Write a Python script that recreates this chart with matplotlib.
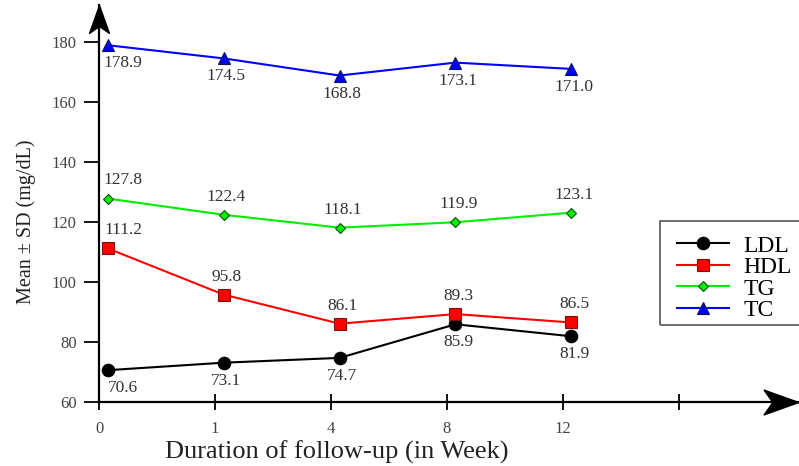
import matplotlib
matplotlib.use("Agg")
import matplotlib.pyplot as plt
import matplotlib.transforms as mtransforms
from matplotlib.path import Path
from matplotlib.patches import Rectangle
import numpy as np

# ---- data ----
weeks = ["0", "1", "4", "8", "12", ""]
series_names = ["LDL", "HDL", "TG", "TC"]
ldl = [70.6, 73.1, 74.7, 85.9, 81.9]
hdl = [111.2, 95.8, 86.1, 89.3, 86.5]
tg = [127.8, 122.4, 118.1, 119.9, 123.1]
tc = [178.9, 174.5, 168.8, 173.1, 171.0]
yticks = [60, 80, 100, 120, 140, 160, 180]

plt.rcParams['font.family'] = ['Liberation Serif', 'DejaVu Serif']

fig = plt.figure(figsize=(7.99, 4.66), dpi=100)
ax = fig.add_axes([99/799, (466-402)/466, 699/799, 397/466])

xpos = np.arange(len(ldl)) + 0.075
styles = [
    (ldl, 'black', 'o', 'black', 9, 'below'),
    (hdl, '#ff0000', 's', '#7a1010', 9, 'above'),
    (tg, '#00ee00', 'D', '#0c4d0c', 5.5, 'above'),
    (tc, '#0000ff', '^', '#101050', 8, 'below'),
]
handles = []
for (vals, col, mk, ec, ms, pos), name in zip(styles, series_names):
    h, = ax.plot(xpos, vals, color=col, lw=1.5, marker=mk, markersize=ms,
                 markerfacecolor=col, markeredgecolor=ec, markeredgewidth=0.8,
                 label=name, clip_on=False, zorder=3)
    handles.append(h)
    for i, (x, v) in enumerate(zip(xpos, vals)):
        dx = 11 if i == 0 else 2
        dy = -13 if pos == 'below' else 13
        ax.annotate(f"{v:.1f}", (x, v), xytext=(dx, dy), textcoords='offset points',
                    ha='center', va='center', fontsize=12.5, color='#333333')

ax.set_xlim(0, 6.03)
ax.set_ylim(60, 192.3)
ax.set_xticks(range(len(weeks)))
ax.set_xticklabels(weeks, fontsize=12, color='#444444')
ax.set_yticks(yticks)
ax.set_yticklabels([str(t) for t in yticks], fontsize=12, color='#444444')
ax.tick_params(axis='y', direction='out', length=11, width=1.3, pad=5)
ax.tick_params(axis='x', direction='inout', length=12, width=1.3, pad=8)
for s in ['top', 'right']:
    ax.spines[s].set_visible(False)
for s in ['left', 'bottom']:
    ax.spines[s].set_linewidth(1.6)

# arrow heads
up = Path([(0, 0.7), (-0.5, -0.7), (0, -0.35), (0.5, -0.7), (0, 0.7)],
          [Path.MOVETO, Path.LINETO, Path.LINETO, Path.LINETO, Path.CLOSEPOLY])
right = Path([(0.7, 0), (-0.7, 0.5), (-0.35, 0), (-0.7, -0.5), (0.7, 0)],
             [Path.MOVETO, Path.LINETO, Path.LINETO, Path.LINETO, Path.CLOSEPOLY])
tr_up = mtransforms.offset_copy(ax.transAxes, fig=fig, x=0, y=-14, units='dots')
ax.plot([0], [1], marker=up, markersize=20, color='black', transform=tr_up, clip_on=False)
tr_r = mtransforms.offset_copy(ax.transAxes, fig=fig, x=-17, y=0, units='dots')
ax.plot([1], [0], marker=right, markersize=25, color='black', transform=tr_r, clip_on=False)

ax.set_xlabel("Duration of follow-up (in Week)", fontsize=19, color='#222222')
ax.xaxis.label.set_va('center')
ax.xaxis.set_label_coords((337-99)/699, (402-452)/397)
ax.set_ylabel("Mean \u00b1 SD (mg/dL)", fontsize=14.5, color='#222222')
ax.yaxis.label.set_va('center')
ax.yaxis.set_label_coords((26-99)/699, (402-222)/397)

# legend frame (extends past the right edge, as in the reference)
fig.patches.append(Rectangle((660/799, 1-325/466), 160/799, 104/466,
                             transform=fig.transFigure, fill=False,
                             edgecolor='#555555', lw=1.2))
leg = fig.legend(handles=handles, loc='upper left', bbox_to_anchor=(677/799, 1-235/466),
                 fontsize=17, frameon=False,
                 handlelength=2.2, labelspacing=0.0, borderpad=0.0, handletextpad=0.6,
                 borderaxespad=0)

fig.savefig("out.png", dpi=100)
